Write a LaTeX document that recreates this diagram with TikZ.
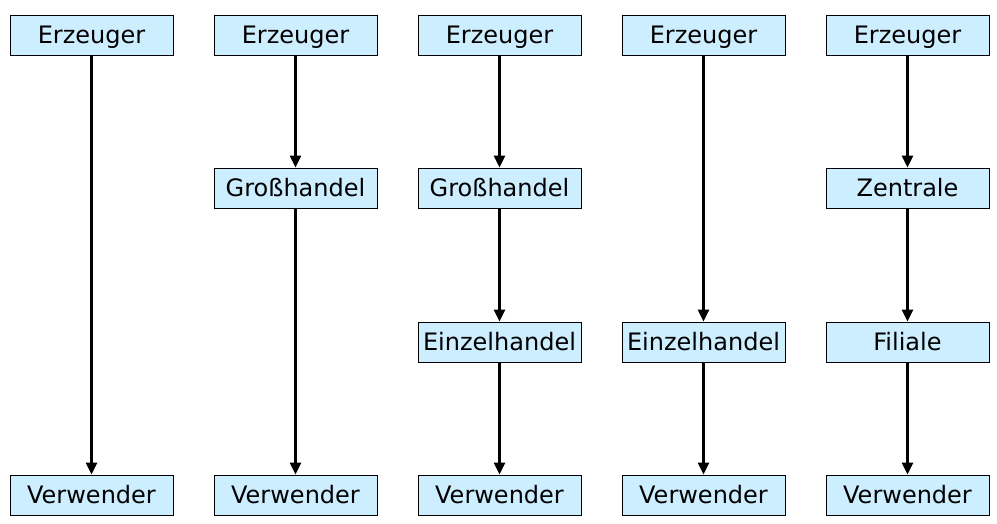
\documentclass[tikz,border=0pt]{standalone}
\usepackage{fontspec}
\setmainfont{DejaVu Sans}
\usetikzlibrary{arrows.meta}
\definecolor{boxblue}{HTML}{CCEEFF}
\tikzset{
  stufe/.style={draw, thin, fill=boxblue, minimum width=163*0.75pt, minimum height=40*0.75pt, inner sep=0pt, text height=13pt, text depth=0pt, font=\fontsize{18}{20}\selectfont},
  weg/.style={-{Triangle[length=9pt,width=8pt]}, line width=2.2pt}
}
\begin{document}
\begin{tikzpicture}[x=0.75pt,y=-0.75pt]
  \useasboundingbox (0,0) rectangle (997,524);
  \node[stufe] (e1) at (91.5,35) {Erzeuger};
  \node[stufe] (e2) at (295.5,35) {Erzeuger};
  \node[stufe] (e3) at (499.5,35) {Erzeuger};
  \node[stufe] (e4) at (703.5,35) {Erzeuger};
  \node[stufe] (e5) at (907.5,35) {Erzeuger};
  \node[stufe] (g2) at (295.5,188) {Großhandel};
  \node[stufe] (g3) at (499.5,188) {Großhandel};
  \node[stufe] (z5) at (907.5,188) {Zentrale};
  \node[stufe] (h3) at (499.5,342) {Einzelhandel};
  \node[stufe] (h4) at (703.5,342) {Einzelhandel};
  \node[stufe] (f5) at (907.5,342) {Filiale};
  \node[stufe] (v1) at (91.5,495) {Verwender};
  \node[stufe] (v2) at (295.5,495) {Verwender};
  \node[stufe] (v3) at (499.5,495) {Verwender};
  \node[stufe] (v4) at (703.5,495) {Verwender};
  \node[stufe] (v5) at (907.5,495) {Verwender};
  % Absatzwege
  \draw[weg] (e1) -- (v1);
  \draw[weg] (e2) -- (g2);
  \draw[weg] (g2) -- (v2);
  \draw[weg] (e3) -- (g3);
  \draw[weg] (g3) -- (h3);
  \draw[weg] (h3) -- (v3);
  \draw[weg] (e4) -- (h4);
  \draw[weg] (h4) -- (v4);
  \draw[weg] (e5) -- (z5);
  \draw[weg] (z5) -- (f5);
  \draw[weg] (f5) -- (v5);
\end{tikzpicture}
\end{document}
